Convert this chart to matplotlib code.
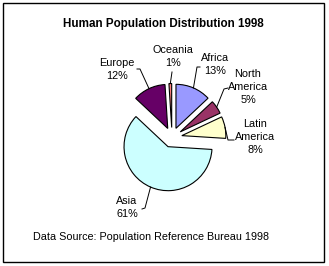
import numpy as np
import matplotlib
matplotlib.use("Agg")
import matplotlib.pyplot as plt
from matplotlib.patches import Rectangle

regions = ["Africa", "North\nAmerica", "Latin\nAmerica", "Asia", "Europe", "Oceania"]
shares = [13, 5, 8, 61, 12, 1]
pct_labels = ["13%", "5%", "8%", "61%", "12%", "1%"]
colors = ["#9999FF", "#993366", "#FFFFCC", "#CCFFFF", "#660066", "#FF8080"]

W, H = 329, 266
plt.rcParams['font.family'] = ['Liberation Sans', 'DejaVu Sans']
fig = plt.figure(figsize=(W / 100, H / 100), dpi=100)
ax = fig.add_axes([0, 0, 1, 1])

def P(px, py):
    return (px, H - py)

wedges, _ = ax.pie(shares, explode=[10] * len(shares), colors=colors,
                   startangle=90, counterclock=False,
                   center=P(172, 137.5), radius=44,
                   wedgeprops=dict(edgecolor='black', linewidth=0.8))

ax.set_xlim(0, W)
ax.set_ylim(0, H)
ax.set_aspect('equal')
ax.axis('off')

# frame
ax.add_patch(Rectangle(P(3, 262), 321, 259, fill=False, edgecolor='black', lw=1.0))

ax.text(*P(163, 24), "Human Population Distribution 1998", ha='center', va='center',
        fontsize=8.4, fontweight='bold')
ax.text(*P(33, 237), "Data Source: Population Reference Bureau 1998", ha='left', va='center',
        fontsize=7.75)

# label text centers (pixel coordinates) and leader line end points
label_pos = [(215, 64.5), (248, 87), (255, 137), (127, 207.5), (117, 69.5), (173, 56.5)]
line_end = [((197, 67), (200, 67)), ((224, 89), (228, 88)), ((228, 140), (234, 140)),
            ((145, 208), (142, 209)), ((140, 69), (137, 69)), ((172, 72), (172, 72))]

for w, name, pct, lp, le in zip(wedges, regions, pct_labels, label_pos, line_end):
    mid = np.deg2rad((w.theta1 + w.theta2) / 2)
    cx, cy = w.center
    ox, oy = cx + w.r * np.cos(mid), cy + w.r * np.sin(mid)
    (ax1, ay1), (ax2, ay2) = le
    ax.plot([ox, ax1, ax2], [oy, H - ay1, H - ay2], color='black', lw=0.7)
    ax.text(*P(*lp), name + "\n" + pct, ha='center', va='center', fontsize=7.8,
            linespacing=1.38)

fig.savefig("out.png", dpi=100, facecolor='white')
